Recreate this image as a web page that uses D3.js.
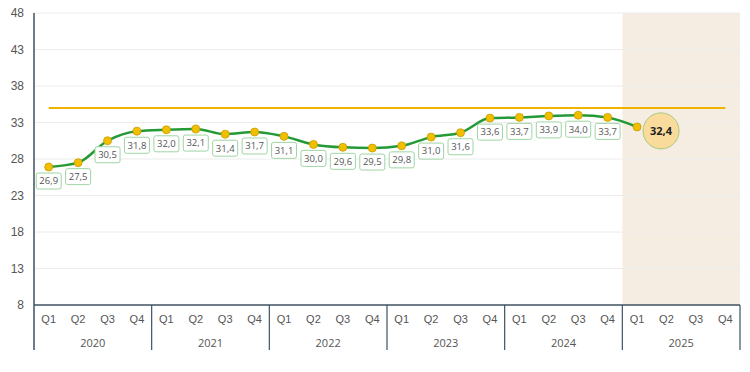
<!DOCTYPE html>
<html>
<head>
<meta charset="utf-8">
<script src="https://cdn.jsdelivr.net/npm/d3@7"></script>
<style>
  body { margin: 0; background: #fff; }
  svg { display: block; font-family: "Open Sans", "Noto Sans", sans-serif; }
</style>
</head>
<body>
<svg id="chart" width="750" height="372"></svg>
<script>
'use strict';

var years = ['2020', '2021', '2022', '2023', '2024', '2025'];
var quarters = ['Q1', 'Q2', 'Q3', 'Q4'];
var values = [26.9, 27.5, 30.5, 31.8, 32.0, 32.1, 31.4, 31.7, 31.1, 30.0, 29.6, 29.5,
    29.8, 31.0, 31.6, 33.6, 33.7, 33.9, 34.0, 33.7, 32.4];
var target = 35;
var yTicks = [8, 13, 18, 23, 28, 33, 38, 43, 48];
var highlightYear = '2025';

var categories = [];
years.forEach(function (y) {
    quarters.forEach(function (q) { categories.push(y + '-' + q); });
});

var svg = d3.select('#chart');
var margin = { top: 13, right: 10, bottom: 67, left: 34 };
var width = 750 - margin.left - margin.right;
var height = 372 - margin.top - margin.bottom;
var g = svg.append('g').attr('transform', 'translate(' + margin.left + ',' + margin.top + ')');

var x = d3.scaleBand().domain(categories).range([0, width]);
var y = d3.scaleLinear().domain([8, 48]).range([height, 0]);
var cx = function (i) { return x(categories[i]) + x.bandwidth() / 2; };

// shaded forecast year
var hFirst = categories.indexOf(highlightYear + '-Q1');
g.append('rect')
    .attr('x', x(categories[hFirst]))
    .attr('y', 0)
    .attr('width', x.bandwidth() * 4)
    .attr('height', height)
    .attr('fill', '#f6ede2');

// gridlines
g.append('g')
    .selectAll('line')
    .data(yTicks.slice(1))
    .enter().append('line')
    .attr('x1', 0).attr('x2', width)
    .attr('y1', function (d) { return y(d); })
    .attr('y2', function (d) { return y(d); })
    .attr('stroke', '#ececec')
    .attr('stroke-width', 1);

// y tick labels
var yAxis = d3.axisLeft(y).tickValues(yTicks).tickSize(0).tickPadding(10);
var yg = g.append('g').call(yAxis);
yg.select('.domain').remove();
yg.selectAll('text').attr('fill', '#555').attr('font-size', 12);

// target line
g.append('line')
    .attr('x1', cx(0)).attr('x2', cx(categories.length - 1))
    .attr('y1', y(target)).attr('y2', y(target))
    .attr('stroke', '#f0b400')
    .attr('stroke-width', 2);

// x axis: quarters
var xAxis = d3.axisBottom(x).tickSize(0).tickPadding(10)
    .tickFormat(function (d) { return d.split('-')[1]; });
var xg = g.append('g').attr('transform', 'translate(0,' + height + ')').call(xAxis);
xg.select('.domain').remove();
xg.selectAll('text').attr('fill', '#555').attr('font-size', 11);

// year labels
g.append('g')
    .selectAll('text')
    .data(years)
    .enter().append('text')
    .attr('x', function (d) { return x(d + '-Q1') + x.bandwidth() * 2; })
    .attr('y', height + 42)
    .attr('text-anchor', 'middle')
    .attr('fill', '#555')
    .attr('font-size', 11)
    .text(function (d) { return d; });

// axis lines and year separators
var axisColor = '#3e5262';
g.append('line')
    .attr('x1', 0).attr('x2', width)
    .attr('y1', height).attr('y2', height)
    .attr('stroke', axisColor).attr('stroke-width', 1.5);
g.append('line')
    .attr('x1', 0).attr('x2', 0)
    .attr('y1', 0).attr('y2', height + 45)
    .attr('stroke', axisColor).attr('stroke-width', 1.5);
g.append('g')
    .selectAll('line')
    .data(years.slice(1).concat(['end']))
    .enter().append('line')
    .attr('x1', function (d) { return d === 'end' ? width : x(d + '-Q1'); })
    .attr('x2', function (d) { return d === 'end' ? width : x(d + '-Q1'); })
    .attr('y1', height).attr('y2', height + 45)
    .attr('stroke', axisColor).attr('stroke-width', 1.2);

// data line
var line = d3.line()
    .x(function (d, i) { return cx(i); })
    .y(function (d) { return y(d); })
    .curve(d3.curveMonotoneX);
g.append('path')
    .datum(values)
    .attr('d', line)
    .attr('fill', 'none')
    .attr('stroke', '#249a36')
    .attr('stroke-width', 2.5);

// value labels (all but last)
var fmt = function (v) { return v.toFixed(1).replace('.', ','); };
var labels = g.append('g')
    .selectAll('g')
    .data(values.slice(0, -1))
    .enter().append('g')
    .attr('transform', function (d, i) { return 'translate(' + cx(i) + ',' + (y(d) + 14) + ')'; });
labels.append('rect')
    .attr('x', -12.5).attr('y', -8)
    .attr('width', 25).attr('height', 16)
    .attr('rx', 2)
    .attr('fill', '#fff')
    .attr('stroke', '#9fd4a4')
    .attr('stroke-width', 1);
labels.append('text')
    .attr('text-anchor', 'middle')
    .attr('dy', '0.35em')
    .attr('fill', '#555')
    .attr('font-size', 9.5)
    .text(fmt);

// points
g.append('g')
    .selectAll('circle')
    .data(values)
    .enter().append('circle')
    .attr('cx', function (d, i) { return cx(i); })
    .attr('cy', function (d) { return y(d); })
    .attr('r', 4)
    .attr('fill', '#f2bf00')
    .attr('stroke', '#c79a00')
    .attr('stroke-width', 0.8);

// highlighted last value
var lastI = values.length - 1;
var bubble = g.append('g')
    .attr('transform', 'translate(' + (cx(lastI) + 24) + ',' + (y(values[lastI]) + 4) + ')');
bubble.append('circle')
    .attr('r', 18)
    .attr('fill', '#f9dc9c')
    .attr('stroke', '#a9c97e')
    .attr('stroke-width', 1);
bubble.append('text')
    .attr('text-anchor', 'middle')
    .attr('dy', '0.35em')
    .attr('font-size', 11)
    .attr('font-weight', 'bold')
    .attr('fill', '#222')
    .text(fmt(values[lastI]));
</script>
</body>
</html>
